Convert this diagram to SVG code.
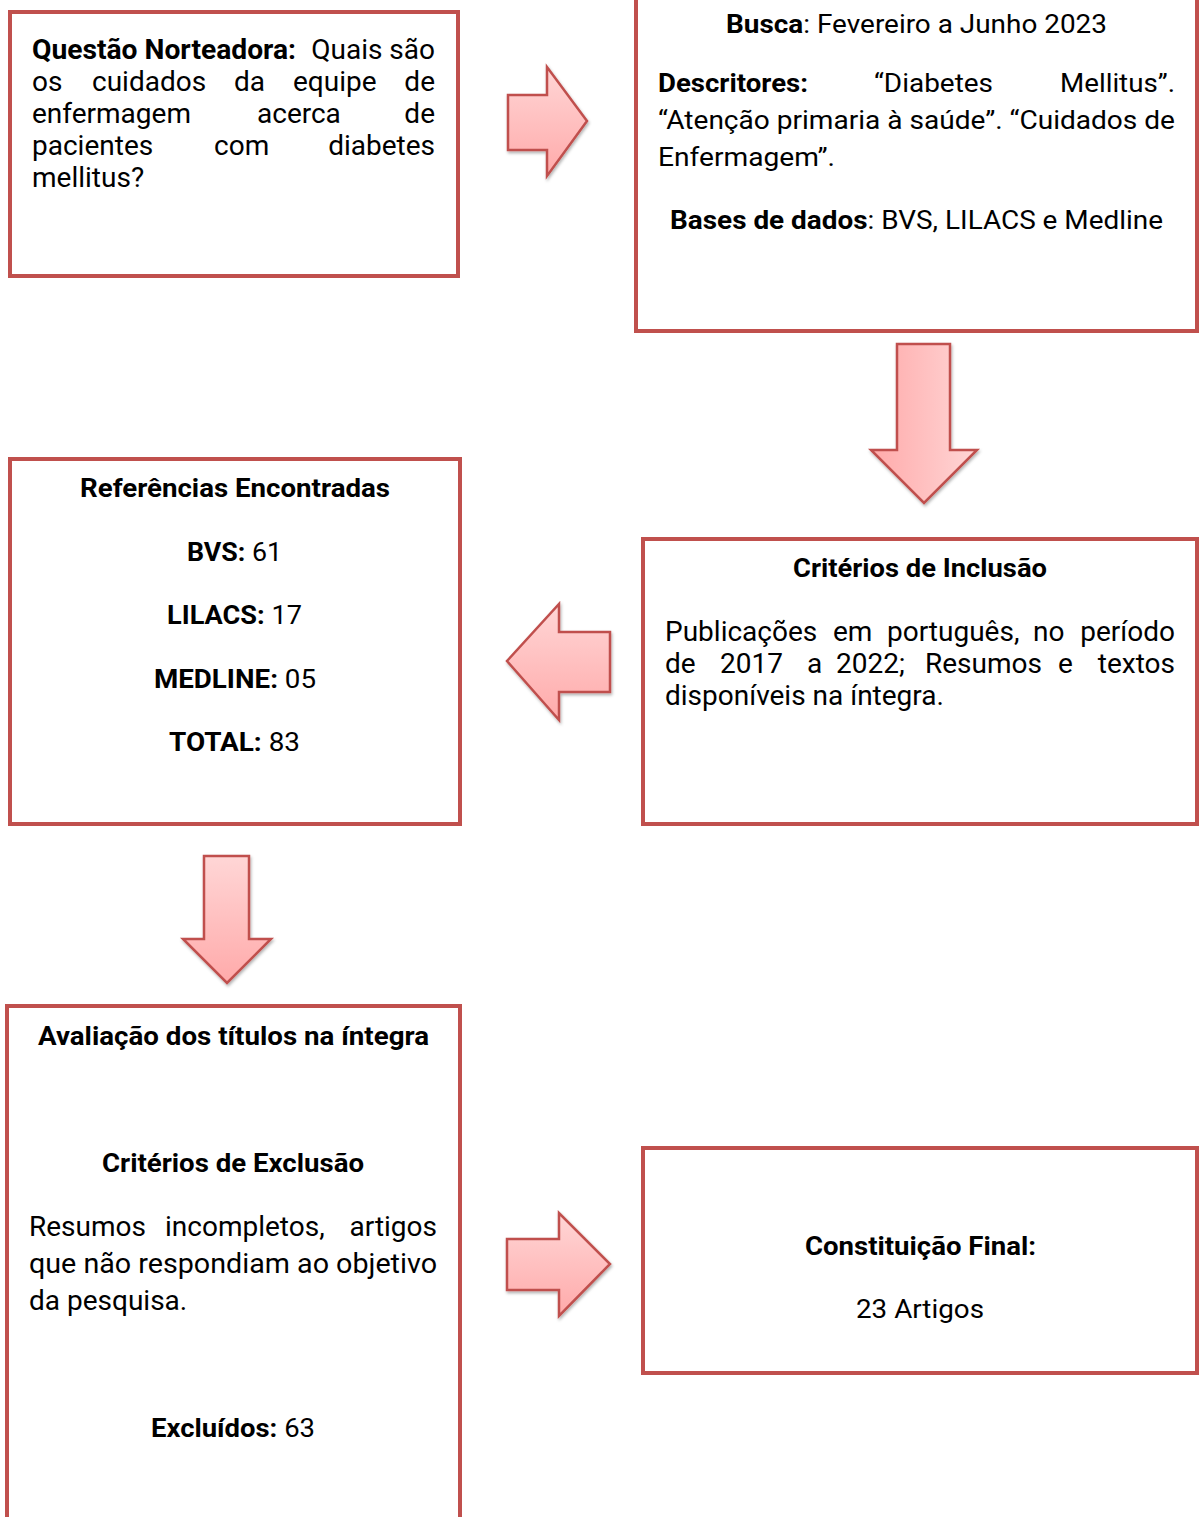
<svg xmlns="http://www.w3.org/2000/svg" width="1203" height="1517" viewBox="0 0 1203 1517">
<style>
.box{fill:#fff;stroke:#c0504d;stroke-width:4}
.arr{stroke:#c0504d;stroke-width:2.5;stroke-linejoin:miter;filter:url(#sh)}
text{font-family:Roboto,"Liberation Sans",sans-serif;font-size:26px;fill:#000}
.r{font-size:28px}
.b{font-weight:bold}
.m{text-anchor:middle}
.e{text-anchor:end}
</style>
<defs>
<linearGradient id="gv" x1="0" y1="0" x2="0" y2="1"><stop offset="0" stop-color="#ffd6d6"/><stop offset="1" stop-color="#ffaaaa"/></linearGradient>
<linearGradient id="gh" x1="0" y1="0" x2="1" y2="0"><stop offset="0" stop-color="#ffaaaa"/><stop offset="1" stop-color="#ffd6d6"/></linearGradient>
<filter id="sh" x="-20%" y="-20%" width="140%" height="140%"><feDropShadow dx="1" dy="2" stdDeviation="1.5" flood-color="#000" flood-opacity="0.3"/></filter>
</defs>

<g id="connectors">
<path class="arr" fill="url(#gv)" d="M508,95 H547 V67 L587,121 L547,176 V150 H508 Z"/>
<path class="arr" fill="url(#gh)" d="M897,344 H950 V450 H977 L924,503 L871,450 H897 Z"/>
<path class="arr" fill="url(#gv)" d="M610,632 H559 V604 L507,661 L559,720 V692 H610 Z"/>
<path class="arr" fill="url(#gv)" d="M204,856 H249 V939 H271 L227,983 L183,939 H204 Z"/>
<path class="arr" fill="url(#gv)" d="M507,1239 H559 V1213 L610,1264 L559,1316 V1290 H507 Z"/>
</g>

<g id="questao">
<rect class="box" x="10" y="12" width="448" height="264"/>
<text x="32" y="59" class="r b" textLength="264" lengthAdjust="spacingAndGlyphs">Questão Norteadora:</text>
<text x="435" y="59" class="r e">Quais são</text>
<text class="r" x="32" y="91">os</text><text class="r" x="92" y="91">cuidados</text><text class="r" x="234" y="91">da</text><text class="r" x="293" y="91">equipe</text><text x="435" y="91" class="r e">de</text>
<text class="r" x="32" y="123">enfermagem</text><text class="r" x="257" y="123">acerca</text><text x="435" y="123" class="r e">de</text>
<text class="r" x="32" y="155">pacientes</text><text class="r" x="214" y="155">com</text><text x="435" y="155" class="r e">diabetes</text>
<text class="r" x="32" y="187">mellitus?</text>
</g>

<g id="busca">
<rect class="box" x="636" y="-10" width="561" height="341"/>
<text x="726" y="33" textLength="381" lengthAdjust="spacingAndGlyphs"><tspan class="b">Busca</tspan>: Fevereiro a Junho 2023</text>
<text x="658" y="92" class="b" textLength="150" lengthAdjust="spacingAndGlyphs">Descritores:</text>
<text x="874" y="92" textLength="119" lengthAdjust="spacingAndGlyphs">“Diabetes</text>
<text x="1060" y="92" textLength="115" lengthAdjust="spacingAndGlyphs">Mellitus”.</text>
<text x="658" y="129" textLength="517" lengthAdjust="spacingAndGlyphs">“Atenção primaria à saúde”. “Cuidados de</text>
<text x="658" y="166" textLength="177" lengthAdjust="spacingAndGlyphs">Enfermagem”.</text>
<text x="670" y="229" textLength="493" lengthAdjust="spacingAndGlyphs"><tspan class="b">Bases de dados</tspan>: BVS, LILACS e Medline</text>
</g>

<g id="inclusao">
<rect class="box" x="643" y="539" width="554" height="285"/>
<text x="793" y="577" class="b" textLength="254" lengthAdjust="spacingAndGlyphs">Critérios de Inclusão</text>
<text class="r" x="665" y="641">Publicações</text><text class="r" x="833" y="641">em</text><text class="r" x="887" y="641">português,</text><text class="r" x="1033" y="641">no</text><text x="1175" y="641" class="r e">período</text>
<text class="r" x="665" y="673">de</text><text class="r" x="720" y="673">2017</text><text class="r" x="807" y="673">a</text><text class="r" x="836" y="673">2022;</text><text class="r" x="925" y="673">Resumos</text><text class="r" x="1058" y="673">e</text><text x="1175" y="673" class="r e">textos</text>
<text class="r" x="665" y="705">disponíveis na íntegra.</text>
</g>

<g id="referencias">
<rect class="box" x="10" y="459" width="450" height="365"/>
<text x="80" y="497" class="b" textLength="310" lengthAdjust="spacingAndGlyphs">Referências Encontradas</text>
<text x="187" y="561" textLength="95" lengthAdjust="spacingAndGlyphs"><tspan class="b">BVS:</tspan> 61</text>
<text x="167" y="624" textLength="135" lengthAdjust="spacingAndGlyphs"><tspan class="b">LILACS:</tspan> 17</text>
<text x="154" y="688" textLength="162" lengthAdjust="spacingAndGlyphs"><tspan class="b">MEDLINE:</tspan> 05</text>
<text x="169" y="751" textLength="131" lengthAdjust="spacingAndGlyphs"><tspan class="b">TOTAL:</tspan> 83</text>
</g>

<g id="avaliacao">
<rect class="box" x="7" y="1006" width="453" height="530"/>
<text x="38" y="1045" class="b" textLength="391" lengthAdjust="spacingAndGlyphs">Avaliação dos títulos na íntegra</text>
<text x="102" y="1172" class="b" textLength="262" lengthAdjust="spacingAndGlyphs">Critérios de Exclusão</text>
<text class="r" x="29" y="1236">Resumos</text><text class="r" x="165" y="1236">incompletos,</text><text x="437" y="1236" class="r e">artigos</text>
<text class="r" x="29" y="1273" textLength="408" lengthAdjust="spacingAndGlyphs">que não respondiam ao objetivo</text>
<text class="r" x="29" y="1310">da pesquisa.</text>
<text x="151" y="1437" textLength="164" lengthAdjust="spacingAndGlyphs"><tspan class="b">Excluídos:</tspan> 63</text>
</g>

<g id="final">
<rect class="box" x="643" y="1148" width="554" height="225"/>
<text x="805" y="1255" class="b" textLength="231" lengthAdjust="spacingAndGlyphs">Constituição Final:</text>
<text x="856" y="1318" textLength="128" lengthAdjust="spacingAndGlyphs">23 Artigos</text>
</g>
</svg>
